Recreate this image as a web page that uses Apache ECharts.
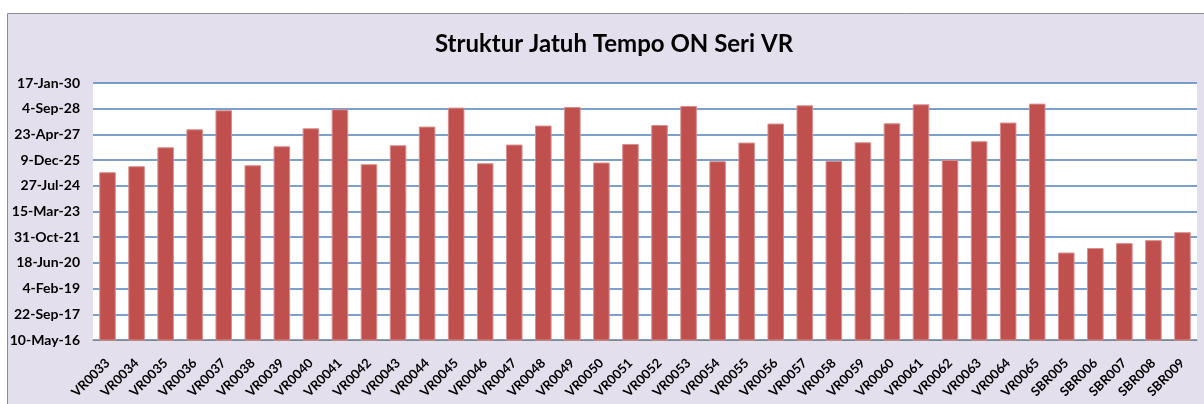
<!DOCTYPE html>
<html lang="id">
<head>
    <meta charset="UTF-8">
    <title>Struktur Jatuh Tempo ON Seri VR</title>
    <style>
        html, body {
            margin: 0;
            padding: 0;
            background: #fff;
        }

        #chart {
            width: 1204px;
            height: 404px;
        }
    </style>
</head>
<body>
<div id="chart"></div>
<script src="https://cdn.jsdelivr.net/npm/echarts@6/dist/echarts.min.js"></script>
<script>

    var seri = ['VR0033', 'VR0034', 'VR0035', 'VR0036', 'VR0037', 'VR0038', 'VR0039', 'VR0040',
        'VR0041', 'VR0042', 'VR0043', 'VR0044', 'VR0045', 'VR0046', 'VR0047', 'VR0048',
        'VR0049', 'VR0050', 'VR0051', 'VR0052', 'VR0053', 'VR0054', 'VR0055', 'VR0056',
        'VR0057', 'VR0058', 'VR0059', 'VR0060', 'VR0061', 'VR0062', 'VR0063', 'VR0064',
        'VR0065', 'SBR005', 'SBR006', 'SBR007', 'SBR008', 'SBR009'];

    // tanggal jatuh tempo
    var jatuhTempo = ['2025-04-17', '2025-08-12', '2026-08-16', '2027-07-31', '2028-08-04',
        '2025-08-31', '2026-09-04', '2027-08-20', '2028-08-23', '2025-09-20', '2026-09-24',
        '2027-09-22', '2028-09-25', '2025-10-09', '2026-10-07', '2027-10-12', '2028-10-07',
        '2025-10-23', '2026-10-19', '2027-10-23', '2028-10-26', '2025-11-17', '2026-11-15',
        '2027-11-20', '2028-11-09', '2025-11-23', '2026-11-21', '2027-11-25', '2028-11-28',
        '2025-12-12', '2026-12-11', '2027-12-09', '2028-12-12', '2021-01-06', '2021-04-03',
        '2021-07-08', '2021-09-04', '2022-02-06'];

    // sumbu tanggal ala Excel (nomor seri hari): 10-May-16 .. 17-Jan-30, tiap 500 hari
    var sumbuMin = 42500;
    var sumbuMax = 47500;
    var sumbuStep = 500;

    var bulan = ['Jan', 'Feb', 'Mar', 'Apr', 'May', 'Jun', 'Jul', 'Aug', 'Sep', 'Oct', 'Nov', 'Dec'];
    var excelEpoch = Date.UTC(1899, 11, 30);

    var keSerial = function (s) {
        var p = s.split('-');
        return Math.round((Date.UTC(+p[0], +p[1] - 1, +p[2]) - excelEpoch) / 86400000);
    };

    var keLabel = function (serial) {
        var d = new Date(excelEpoch + serial * 86400000);
        var yy = String(d.getUTCFullYear() % 100);
        if (yy.length < 2) yy = '0' + yy;
        return d.getUTCDate() + '-' + bulan[d.getUTCMonth()] + '-' + yy;
    };

    var font = 'Lato, Calibri, "Liberation Sans", sans-serif';

    var option = {
        backgroundColor: '#ffffff',
        animation: false,
        graphic: [
            {
                type: 'rect',
                z: -10,
                shape: {x: 7.5, y: 13.5, width: 1210, height: 410},
                style: {fill: '#E4DFEC', stroke: '#8C8C8C', lineWidth: 1}
            }
        ],
        title: {
            text: 'Struktur Jatuh Tempo ON Seri VR',
            left: 609,
            top: 27,
            textAlign: 'center',
            textStyle: {
                fontFamily: font,
                fontSize: 24,
                fontWeight: 'bold',
                color: '#000'
            }
        },
        grid: {
            left: 93,
            right: 7,
            top: 83,
            bottom: 64,
            show: true,
            backgroundColor: '#ffffff',
            borderWidth: 0
        },
        xAxis: {
            type: 'category',
            data: seri,
            axisLine: {lineStyle: {color: '#868686', width: 1}},
            axisTick: {show: false},
            axisLabel: {
                interval: 0,
                rotate: 45,
                margin: 21,
                color: '#000',
                fontFamily: font,
                fontWeight: 'bold',
                fontSize: 13
            }
        },
        yAxis: {
            type: 'value',
            min: sumbuMin,
            max: sumbuMax,
            interval: sumbuStep,
            axisLine: {show: false},
            axisTick: {show: false},
            axisLabel: {
                margin: 13,
                color: '#000',
                fontFamily: font,
                fontWeight: 'bold',
                fontSize: 14,
                formatter: keLabel
            },
            splitLine: {lineStyle: {color: '#4F81BD', width: 1.5}}
        },
        series: [
            {
                type: 'bar',
                barCategoryGap: '43%',
                itemStyle: {
                    color: '#C0504D',
                    borderColor: '#D98E8C',
                    borderWidth: 1
                },
                data: jatuhTempo.map(keSerial)
            }
        ]
    };

    var myChart = echarts.init(document.getElementById('chart'));
    myChart.setOption(option);
</script>
</body>
</html>
